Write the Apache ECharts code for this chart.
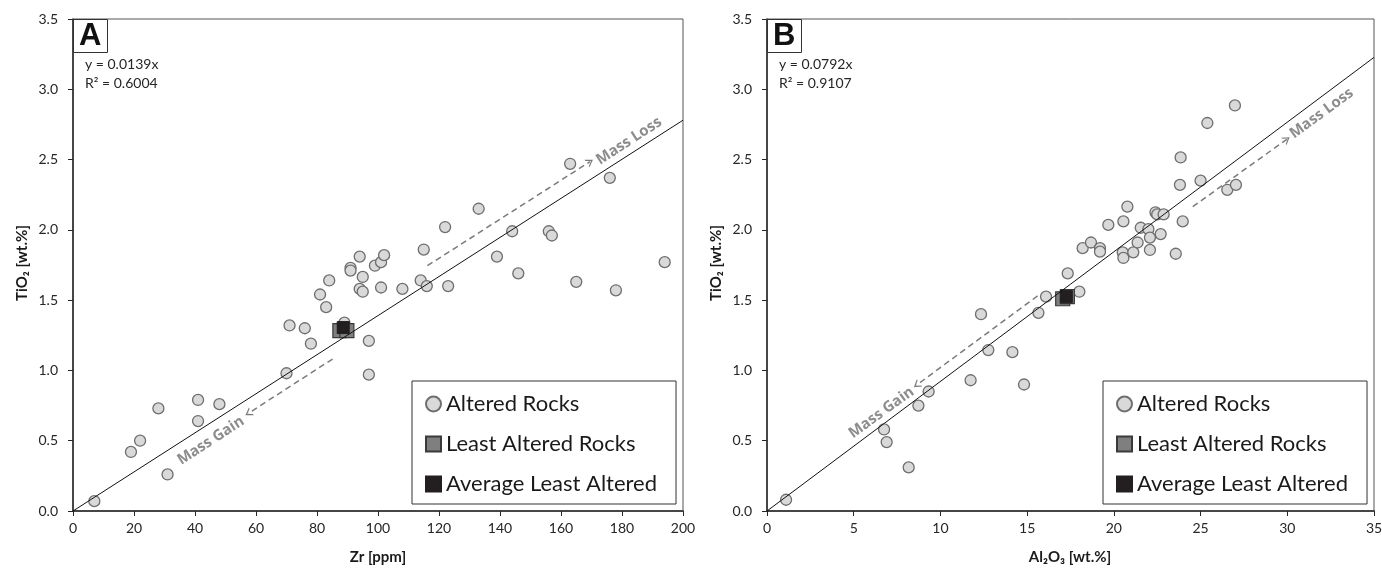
<!DOCTYPE html>
<html><head><meta charset="utf-8">
<script src="https://cdn.jsdelivr.net/npm/echarts/dist/echarts.min.js"></script>
<style>html,body{margin:0;padding:0;background:#fff}#c{width:1382px;height:569px}</style>
</head><body><div id="c"></div>
<script>
// ---------- Panel A data: Zr [ppm] vs TiO2 [wt.%] ----------
const alteredZr = [7,19,22,28,31,41,41,48,70,71,76,78,81,83,84,89,91,91,94,94,95,95,97,97,99,101,101,102,108,114,115,116,122,123,133,139,144,146,156,157,163,165,176,178,194];
const alteredTiA = [0.07,0.42,0.50,0.73,0.26,0.79,0.64,0.76,0.98,1.32,1.30,1.19,1.54,1.45,1.64,1.34,1.73,1.71,1.81,1.58,1.665,1.56,1.21,0.97,1.745,1.59,1.77,1.82,1.58,1.64,1.86,1.60,2.02,1.60,2.15,1.81,1.99,1.69,1.99,1.96,2.47,1.63,2.37,1.57,1.77];
const leastZr = [87.5, 89.8];
const leastTiA = [1.283, 1.283];
const avgZr = [88.6];
const avgTiA = [1.305];
const slopeA = 0.0139;
const xMaxA = 200;
const eqA = ['y = 0.0139x', 'R² = 0.6004'];
// dashed arrows (start, end) in data units
const lossArrowA = [[116.2, 1.745], [169.5, 2.485]];
const gainArrowA = [[85.1, 1.081], [57.5, 0.695]];
const lossLabelA = [182.3, 2.632];
const gainLabelA = [45.2, 0.50];

// ---------- Panel B data: Al2O3 [wt.%] vs TiO2 [wt.%] ----------
const alteredAl = [1.1,6.75,6.9,8.17,8.73,9.32,11.74,12.34,12.76,14.15,14.82,15.65,16.09,17.34,18.01,18.2,18.68,19.2,19.2,19.68,20.51,20.55,20.55,20.78,21.12,21.37,21.55,21.99,22.08,22.08,22.4,22.5,22.87,22.7,23.97,23.57,23.81,25.0,23.85,25.39,26.98,26.54,27.04];
const alteredTiB = [0.08,0.58,0.49,0.31,0.75,0.85,0.93,1.40,1.145,1.13,0.90,1.41,1.525,1.69,1.56,1.87,1.91,1.87,1.845,2.035,1.84,1.80,2.06,2.165,1.84,1.91,2.015,2.005,1.945,1.857,2.125,2.11,2.11,1.97,2.06,1.83,2.32,2.35,2.515,2.76,2.885,2.285,2.32];
const leastAl = [17.05, 17.32];
const leastTiB = [1.51, 1.525];
const avgAl = [17.26];
const avgTiB = [1.525];
const slopeB = 0.0922;
const xMaxB = 35;
const eqB = ['y = 0.0792x', 'R² = 0.9107'];
const lossArrowB = [[24.55, 2.165], [29.97, 2.644]];
const gainArrowB = [[15.6, 1.53], [8.63, 0.896]];
const lossLabelB = [31.98, 2.829];
const gainLabelB = [6.6, 0.70];

const yTicks = ['0.0','0.5','1.0','1.5','2.0','2.5','3.0','3.5'];
const legendNames = ['Altered Rocks', 'Least Altered Rocks', 'Average Least Altered'];
const yName = 'TiO₂ [wt.%]';
const xNameA = 'Zr [ppm]';
const xNameB = 'Al₂O₃ [wt.%]';

const FONT = 'Lato';
const zip = (a, b) => a.map((v, i) => [v, b[i]]);
const chevron = 'path://M0,11 L10,0 L20,11 L17,11 L10,3.5 L3,11 Z';
const NAME_FONT = 'bold 15px Lato, "DejaVu Sans"';

function yAxisCfg(idx) {
  return {
    gridIndex: idx, type: 'value', min: 0, max: 3.5, interval: 0.5,
    axisLine: { show: true, onZero: false, lineStyle: { color: '#262626', width: 1.5 } },
    axisTick: { show: true, inside: false, length: 5, lineStyle: { color: '#262626', width: 1 } },
    axisLabel: { margin: 15, fontFamily: FONT, fontSize: 14, color: '#262626', formatter: v => yTicks[Math.round(v / 0.5)] },
    splitLine: { show: false }
  };
}
function xAxisCfg(idx, max, interval) {
  return {
    gridIndex: idx, type: 'value', min: 0, max: max, interval: interval,
    axisLine: { show: true, onZero: false, lineStyle: { color: '#262626', width: 1.5 } },
    axisTick: { show: true, inside: false, length: 5, lineStyle: { color: '#262626', width: 1 } },
    axisLabel: { margin: 10, fontFamily: FONT, fontSize: 14, color: '#262626' },
    splitLine: { show: false }
  };
}
function arrowLine(seg) {
  return [{ coord: seg[0] }, { coord: seg[1] }];
}
function panelSeries(idx, alt, least, avg, slope, xMax, lossSeg, gainSeg, lossLab, gainLab, rot) {
  const lab = (pos, text) => ({
    type: 'scatter', xAxisIndex: idx, yAxisIndex: idx, symbolSize: 1, silent: true, z: 5,
    itemStyle: { color: 'rgba(0,0,0,0)' },
    data: [pos],
    label: { show: true, position: 'inside', formatter: text, rotate: rot, fontFamily: 'Open Sans',
      fontWeight: 'bold', fontSize: 15, color: '#707070' }
  });
  return [
    {
      type: 'line', xAxisIndex: idx, yAxisIndex: idx, name: 'trend' + idx, symbol: 'none', silent: true,
      data: [[0, 0], [xMax, slope * xMax]],
      lineStyle: { color: '#111', width: 1 },
      markLine: {
        silent: true, animation: false, symbol: ['none', chevron], symbolSize: [9, 7],
        lineStyle: { color: '#7a7a7a', width: 1.5, type: [6, 4] },
        itemStyle: { color: '#7a7a7a' },
        label: { show: false },
        data: [arrowLine(lossSeg), arrowLine(gainSeg)]
      }
    },
    {
      type: 'scatter', name: legendNames[0], xAxisIndex: idx, yAxisIndex: idx, symbol: 'circle', symbolSize: 11,
      itemStyle: { color: '#d9d9d9', borderColor: '#6e6e6e', borderWidth: 1.3, opacity: 1 },
      data: alt
    },
    {
      type: 'scatter', name: legendNames[1], xAxisIndex: idx, yAxisIndex: idx, symbol: 'rect', symbolSize: 14,
      itemStyle: { color: '#7f7f7f', borderColor: '#3a3a3a', borderWidth: 1.2, opacity: 1 },
      data: least
    },
    {
      type: 'scatter', name: legendNames[2], xAxisIndex: idx, yAxisIndex: idx, symbol: 'rect', symbolSize: 12,
      itemStyle: { color: '#231f20', borderColor: '#231f20', borderWidth: 1, opacity: 1 },
      data: avg
    },
    lab(lossLab, 'Mass Loss'),
    lab(gainLab, 'Mass Gain')
  ];
}
function legendCfg(left) {
  return {
    left: left, top: 381, orient: 'vertical', itemWidth: 15, itemHeight: 15, itemGap: 18,
    padding: [12, 19, 9, 13], borderColor: '#333', borderWidth: 1, backgroundColor: '#fff',
    selectedMode: false,
    textStyle: { fontFamily: FONT, fontSize: 22, color: '#1a1a1a' },
    data: [
      { name: legendNames[0], icon: 'circle' },
      { name: legendNames[1], icon: 'rect' },
      { name: legendNames[2], icon: 'rect' }
    ]
  };
}
function titleCfg(text, left) {
  return {
    text: text, left: left, top: 19, padding: [1, 6, 0, 6], borderColor: '#333', borderWidth: 1,
    backgroundColor: '#fff',
    textStyle: { fontFamily: 'Liberation Sans', fontWeight: 'bold', fontSize: 31, color: '#111', lineHeight: 33 }
  };
}
function eqText(lines, left) {
  return { type: 'text', left: left, top: 55, z: 10,
    style: { text: lines.join('\n'), font: '14px ' + FONT, fill: '#262626', lineHeight: 19 } };
}
function nameText(text, x, y, rotation) {
  return { type: 'text', x: x, y: y, rotation: rotation, z: 10,
    style: { text: text, font: NAME_FONT, fill: '#1a1a1a', align: 'center', verticalAlign: 'middle' } };
}

const grids = [
  { left: 73, top: 19, width: 610, height: 492, show: true, borderColor: '#555', borderWidth: 1, containLabel: false, outerBoundsMode: 'none' },
  { left: 767, top: 19, width: 607, height: 492, show: true, borderColor: '#555', borderWidth: 1, containLabel: false, outerBoundsMode: 'none' }
];

const option = {
  animation: false,
  backgroundColor: '#fff',
  grid: grids,
  title: [titleCfg('A', 73), titleCfg('B', 767)],
  legend: [legendCfg(412), legendCfg(1103)],
  xAxis: [xAxisCfg(0, xMaxA, 20), xAxisCfg(1, xMaxB, 5)],
  yAxis: [yAxisCfg(0), yAxisCfg(1)],
  graphic: [
    eqText(eqA, 85), eqText(eqB, 779),
    nameText(xNameA, 378, 557, 0), nameText(xNameB, 1070, 557, 0),
    nameText(yName, 22, 263, Math.PI / 2), nameText(yName, 716, 263, Math.PI / 2)
  ],
  series: [
    ...panelSeries(0, zip(alteredZr, alteredTiA), zip(leastZr, leastTiA), zip(avgZr, avgTiA), slopeA, xMaxA,
      lossArrowA, gainArrowA, lossLabelA, gainLabelA, 33),
    ...panelSeries(1, zip(alteredAl, alteredTiB), zip(leastAl, leastTiB), zip(avgAl, avgTiB), slopeB, xMaxB,
      lossArrowB, gainArrowB, lossLabelB, gainLabelB, 36)
  ]
};
const chart = echarts.init(document.getElementById('c'), null, { renderer: 'canvas' });
chart.setOption(option);
</script></body></html>
